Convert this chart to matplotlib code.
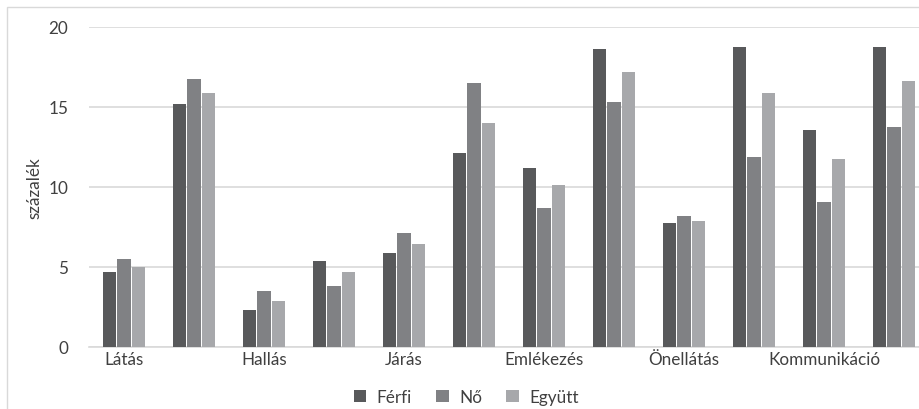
import matplotlib
matplotlib.use("Agg")
import matplotlib.pyplot as plt
import numpy as np
from matplotlib.patches import Rectangle

categories = ["Látás", "", "Hallás", "", "Járás", "", "Emlékezés", "", "Önellátás", "", "Kommunikáció", ""]
ferfi  = [4.67, 15.17, 2.29, 5.36, 5.86, 12.1, 11.17, 18.6, 7.73, 18.73, 13.54, 18.73]
no     = [5.48, 16.73, 3.48, 3.79, 7.11, 16.48, 8.67, 15.3, 8.17, 11.86, 9.04, 13.73]
egyutt = [5.0, 15.86, 2.86, 4.67, 6.42, 13.98, 10.1, 17.17, 7.86, 15.86, 11.73, 16.6]
series_names = ["Férfi", "Nő", "Együtt"]
colors = ["#58595b", "#808184", "#a7a8ab"]

plt.rcParams['font.family'] = ['Lato', 'DejaVu Sans']

W, H = 919, 410
fig = plt.figure(figsize=(W/100, H/100), dpi=100)
# outer border
fig.patches.append(Rectangle((7/W, -0.1), 1.2, (H-8)/H + 0.1, transform=fig.transFigure,
                             fill=False, edgecolor="#d9d9d9", linewidth=1.0))

ax = fig.add_axes([89/W, 1-348/H, 840/W, (348-28)/H])
x = np.arange(len(categories))
bw = 0.186
step = 0.21
for i, (vals, name, c) in enumerate(zip([ferfi, no, egyutt], series_names, colors)):
    ax.bar(x + (i-1)*step, vals, width=bw, color=c, label=name, zorder=3)

fs = 12.3
ax.set_xlim(-0.5, len(categories)-0.5)
ax.set_ylim(0, 20)
ax.set_yticks([0, 5, 10, 15, 20])
ax.yaxis.grid(True, color="#d9d9d9", linewidth=1.2, zorder=0)
ax.set_axisbelow(True)
for s in ["top", "right", "left"]:
    ax.spines[s].set_visible(False)
ax.spines["bottom"].set_color("#d9d9d9")
ax.spines["bottom"].set_linewidth(1.2)
ax.tick_params(axis="both", length=0, labelsize=fs, colors="#404040")
ax.tick_params(axis="y", pad=15)
ax.tick_params(axis="x", pad=3)
ax.set_xticks(x)
ax.set_xticklabels(categories)
ax.set_ylabel("százalék", fontsize=fs, color="#404040", labelpad=4)

leg = fig.legend(loc="center", bbox_to_anchor=(466/W, 1-398/H), ncol=3, frameon=False,
                 fontsize=fs, handlelength=0.75, handleheight=0.75, columnspacing=1.4,
                 handletextpad=0.6, labelcolor="#404040")

fig.savefig("out.png", dpi=100)
